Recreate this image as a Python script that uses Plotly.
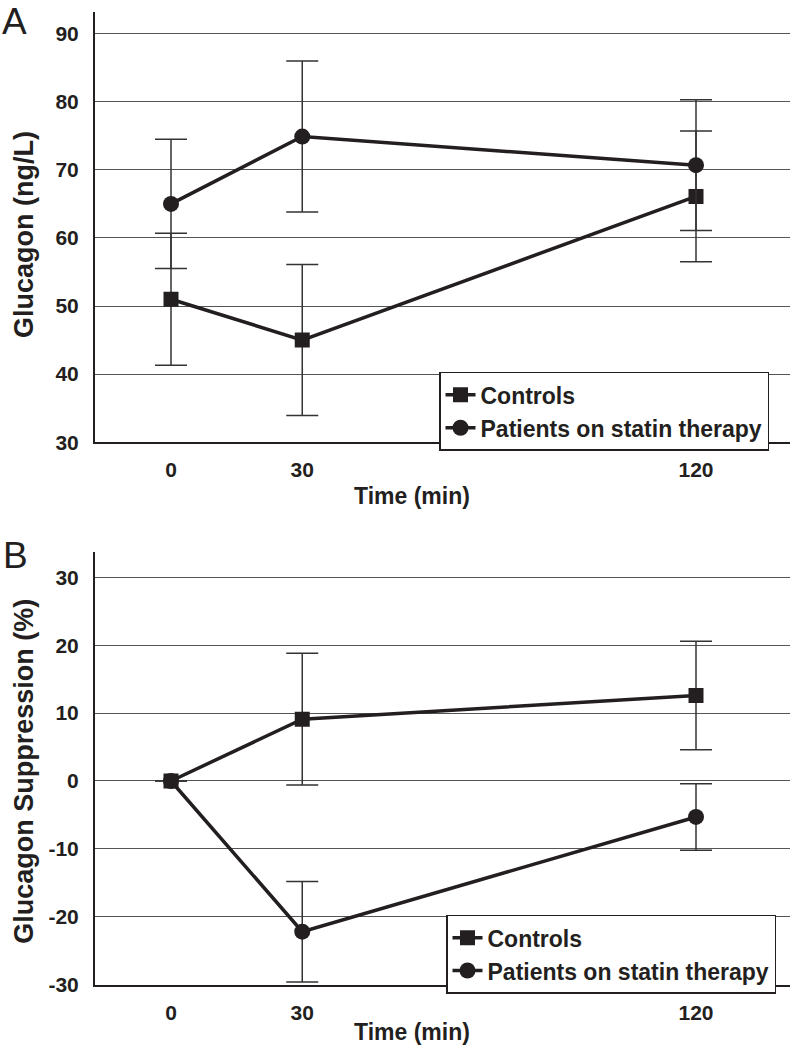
import plotly.graph_objects as go

# ---- data ----
times = [0, 30, 120]
time_labels = ["0", "30", "120"]

glucagon_controls = [51.0, 45.0, 66.1]
glucagon_controls_err = [9.7, 11.1, 9.6]
glucagon_statin = [65.0, 74.9, 70.7]
glucagon_statin_err = [9.5, 11.1, 9.6]

supp_controls = [0.0, 9.1, 12.6]
supp_controls_err = [0.0, 9.7, 8.0]
supp_statin = [0.0, -22.2, -5.3]
supp_statin_err = [0.0, 7.4, 4.9]

yticks_a = [30, 40, 50, 60, 70, 80, 90]
yticks_b = [-30, -20, -10, 0, 10, 20, 30]
yticklabels_b = ["-30", "-20", "-10", "0", "10", "20", "30"]

series_names = ["Controls", "Patients on statin therapy"]

# ---- style ----
SY = 0.99  # vertical compression seen in the capture
W, H = 794, round(1052 / SY)
INK = "#231f20"
GRID = "#555555"
FONT = "Liberation Sans"


def px_x(p):
    return min(1.0, max(0.0, p / W))


def px_y(p):
    return min(1.0, max(0.0, 1 - (p / SY) / H))


fig = go.Figure()


def add_series(y, err, name, symbol, size, xa, ya, legend):
    fig.add_trace(go.Scatter(
        x=times, y=y, name=name, mode="lines+markers",
        xaxis=xa, yaxis=ya, legend=legend,
        line=dict(color=INK, width=3.5),
        marker=dict(symbol=symbol, size=size, color=INK),
        error_y=dict(type="data", array=err, visible=True,
                     color="#333333", thickness=1.5, width=16),
    ))


add_series(glucagon_controls, glucagon_controls_err, series_names[0], "square", 15, "x", "y", "legend")
add_series(glucagon_statin, glucagon_statin_err, series_names[1], "circle", 16, "x", "y", "legend")
add_series(supp_controls, supp_controls_err, series_names[0], "square", 15, "x2", "y2", "legend2")
add_series(supp_statin, supp_statin_err, series_names[1], "circle", 16, "x2", "y2", "legend2")

tickfont = dict(family=FONT, size=21, color=INK, weight="bold")
# 0 min at 171 px, 120 min at 696 px; axis spans 95..790 px
xrange = [(95 - 171) / 4.375, (790 - 171) / 4.375]

xcommon = dict(range=xrange, tickvals=times, ticktext=time_labels, showline=True,
               linecolor=INK, linewidth=2, showgrid=False, zeroline=False,
               ticks="", ticklabelstandoff=8, tickfont=tickfont, fixedrange=True)
ycommon = dict(showline=True, linecolor=INK, linewidth=2, showgrid=True,
               gridcolor=GRID, gridwidth=1, zeroline=False, ticks="",
               ticklabelstandoff=10, tickfont=tickfont, fixedrange=True)

legend_style = dict(xanchor="left", yanchor="top", bgcolor="white",
                    bordercolor=INK, borderwidth=1.5,
                    font=dict(family=FONT, size=23, color=INK, weight="bold"))

fig.update_layout(
    width=W, height=H,
    margin=dict(l=0, r=0, t=0, b=0),
    paper_bgcolor="white", plot_bgcolor="white",
    showlegend=True,
    xaxis=dict(domain=[px_x(95), px_x(790)], anchor="y", **xcommon),
    yaxis=dict(domain=[px_y(442.3), px_y(12)], anchor="x", range=[30, 93.2],
               tickvals=yticks_a, **ycommon),
    xaxis2=dict(domain=[px_x(95), px_x(790)], anchor="y2", **xcommon),
    yaxis2=dict(domain=[px_y(985), px_y(551.7)], anchor="x2", range=[-30, 33.8],
                tickvals=yticks_b, ticktext=yticklabels_b, **ycommon),
    legend=dict(x=px_x(439), y=px_y(372), **legend_style),
    legend2=dict(x=px_x(446), y=px_y(915), **legend_style),
)

annots = [
    dict(text="A", x=px_x(-1), y=px_y(22), xanchor="left", yanchor="middle",
         font=dict(family=FONT, size=37, color=INK), textangle=0),
    dict(text="B", x=px_x(1), y=px_y(556), xanchor="left", yanchor="middle",
         font=dict(family=FONT, size=37, color=INK), textangle=0),
    dict(text="Time (min)", x=px_x(412), y=px_y(496), xanchor="center", yanchor="middle",
         font=dict(family=FONT, size=23, color=INK, weight="bold"), textangle=0),
    dict(text="Time (min)", x=px_x(412), y=px_y(1032), xanchor="center", yanchor="middle",
         font=dict(family=FONT, size=23, color=INK, weight="bold"), textangle=0),
    dict(text="Glucagon (ng/L)", x=px_x(24), y=px_y(235), xanchor="center", yanchor="middle",
         font=dict(family=FONT, size=27, color=INK, weight="bold"), textangle=-90),
    dict(text="Glucagon Suppression (%)", x=px_x(24), y=px_y(772), xanchor="center", yanchor="middle",
         font=dict(family=FONT, size=27, color=INK, weight="bold"), textangle=-90),
]
for a in annots:
    fig.add_annotation(xref="paper", yref="paper", showarrow=False, **a)

fig.write_html(
    "out.html",
    config={"displayModeBar": False},
    post_script="document.body.style.margin='0';document.documentElement.style.overflow='hidden';",
)
